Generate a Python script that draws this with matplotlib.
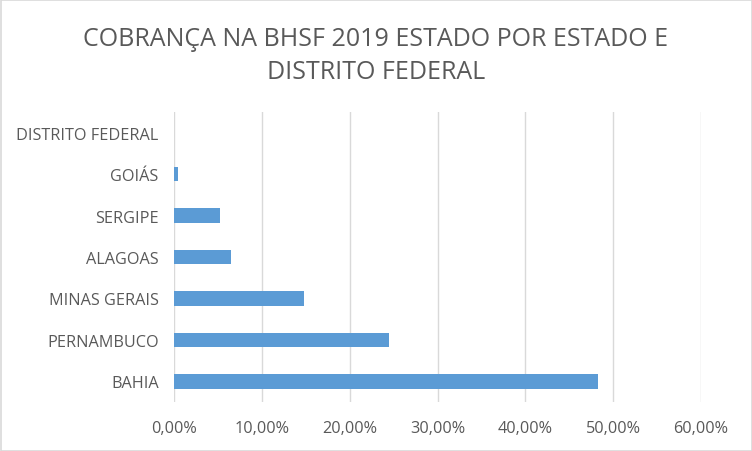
import matplotlib
matplotlib.use("Agg")
import matplotlib.pyplot as plt
from matplotlib.ticker import FuncFormatter, MultipleLocator
from matplotlib.patches import Rectangle

states = ["BAHIA", "PERNAMBUCO", "MINAS GERAIS", "ALAGOAS", "SERGIPE", "GOIÁS", "DISTRITO FEDERAL"]
shares = [0.483, 0.245, 0.148, 0.065, 0.052, 0.0042, 0.0001]
title = "COBRANÇA NA BHSF 2019 ESTADO POR ESTADO E\nDISTRITO FEDERAL"

plt.rcParams['font.family'] = ['Open Sans', 'DejaVu Sans']
txt = "#595959"

fig = plt.figure(figsize=(7.52, 4.52), dpi=100)
ax = fig.add_axes([174/752, 49/452, 527/752, 290/452])

ypos = list(range(len(states)))
ax.barh(ypos, shares, height=0.35, color="#5B9BD5", zorder=3)
ax.set_ylim(-0.5, len(states) - 0.5)
ax.set_xlim(0, 0.6)
ax.xaxis.set_major_locator(MultipleLocator(0.1))
ax.xaxis.set_major_formatter(FuncFormatter(lambda v, p: f"{v*100:.2f}%".replace(".", ",")))
ax.set_yticks(ypos)
ax.set_yticklabels(states)
ax.grid(axis="x", color="#D9D9D9", linewidth=1, zorder=0)
for s in ax.spines.values():
    s.set_visible(False)
ax.tick_params(axis="both", length=0, labelsize=11.7, labelcolor=txt)
ax.tick_params(axis="y", pad=11)
ax.tick_params(axis="x", pad=13)

fig.text(0.5, 1 - 56/452, title, ha="center", va="center", fontsize=18,
         color=txt, linespacing=1.45)

fig.add_artist(Rectangle((0.5/752, 0.5/452), 751/752, 451/452, transform=fig.transFigure,
                         fill=False, edgecolor="#D9D9D9", linewidth=1.2))

fig.savefig("out.png", dpi=100, facecolor="white")
